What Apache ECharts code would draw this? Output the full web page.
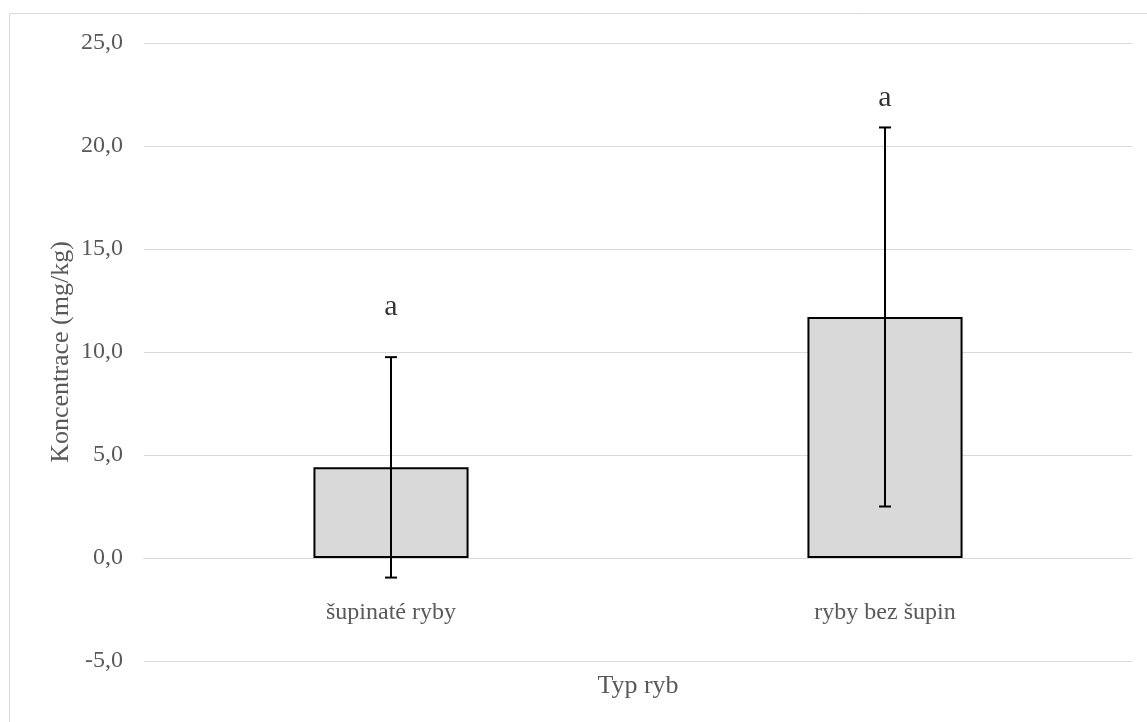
<!DOCTYPE html>
<html>
<head>
<meta charset="utf-8">
<script src="https://cdn.jsdelivr.net/npm/echarts@6/dist/echarts.min.js"></script>
<style>html,body{margin:0;padding:0;background:#fff;}#c{width:1147px;height:722px;}</style>
</head>
<body>
<div id="c"></div>
<script>
var categories = ['šupinaté ryby', 'ryby bez šupin'];
var means = [4.4, 11.7];
var errors = [5.35, 9.2];
var letters = ['a', 'a'];
var letterHeights = [12.2, 22.3];
var yTicks = { min: -5, max: 25, interval: 5 };

var chart = echarts.init(document.getElementById('c'));
var font = '"Liberation Serif","Times New Roman",serif';
var gridTop = 43, gridBottom = 61;
var plotH = 722 - gridTop - gridBottom;
var zeroOffset = -plotH * (0 - yTicks.min) / (yTicks.max - yTicks.min);

var errData = categories.map(function (c, i) { return [i, means[i] - errors[i], means[i] + errors[i]]; });
var letterData = categories.map(function (c, i) { return [i, letterHeights[i], letters[i]]; });

chart.setOption({
  animation: false,
  backgroundColor: '#fff',
  grid: { left: 144, right: 15, top: gridTop, bottom: gridBottom, outerBoundsMode: 'none', containLabel: false },
  graphic: [
    { type: 'rect', shape: { x: 9.5, y: 13.5, width: 1150, height: 720 }, style: { fill: 'none', stroke: '#d9d9d9', lineWidth: 1 }, silent: true, z: -1 },
    { type: 'text', x: 638, y: 686, style: { text: 'Typ ryb', font: '26px ' + font, fill: '#595959', textAlign: 'center', textVerticalAlign: 'middle' } },
    { type: 'text', rotation: Math.PI / 2, x: 61, y: 352, style: { text: 'Koncentrace (mg/kg)', font: '26px ' + font, fill: '#595959', textAlign: 'center', textVerticalAlign: 'middle' } }
  ],
  xAxis: {
    type: 'category',
    data: categories,
    position: 'bottom',
    offset: zeroOffset,
    axisLine: { onZero: false, lineStyle: { color: '#d9d9d9', width: 1 } },
    axisTick: { show: false },
    axisLabel: { margin: 43, fontFamily: font, fontSize: 24, color: '#595959' },
    splitLine: { show: false },
    z: 1
  },
  yAxis: {
    type: 'value',
    min: yTicks.min, max: yTicks.max, interval: yTicks.interval,
    axisLine: { show: false },
    axisTick: { show: false },
    axisLabel: { margin: 21, fontFamily: font, fontSize: 24, color: '#595959',
      formatter: function (v) { return v.toFixed(1).replace('.', ','); } },
    splitLine: { lineStyle: { color: '#d9d9d9', width: 1 } }
  },
  series: [
    {
      type: 'bar',
      data: means,
      barWidth: '31.4%',
      itemStyle: { color: '#d9d9d9', borderColor: '#000', borderWidth: 2 },
      z: 2
    },
    {
      type: 'custom',
      data: errData,
      z: 5,
      renderItem: function (params, api) {
        var x = api.value(0);
        var lo = api.coord([x, api.value(1)]);
        var hi = api.coord([x, api.value(2)]);
        var cap = 6;
        var st = { stroke: '#000', lineWidth: 2 };
        return {
          type: 'group',
          children: [
            { type: 'line', shape: { x1: lo[0], y1: lo[1], x2: hi[0], y2: hi[1] }, style: st },
            { type: 'line', shape: { x1: lo[0] - cap, y1: lo[1], x2: lo[0] + cap, y2: lo[1] }, style: st },
            { type: 'line', shape: { x1: hi[0] - cap, y1: hi[1], x2: hi[0] + cap, y2: hi[1] }, style: st }
          ]
        };
      }
    },
    {
      type: 'scatter',
      data: letterData,
      symbolSize: 0,
      z: 6,
      label: {
        show: true, position: 'inside',
        formatter: function (p) { return p.value[2]; },
        fontFamily: font, fontSize: 30, color: '#000'
      }
    }
  ]
});
</script>
</body>
</html>
